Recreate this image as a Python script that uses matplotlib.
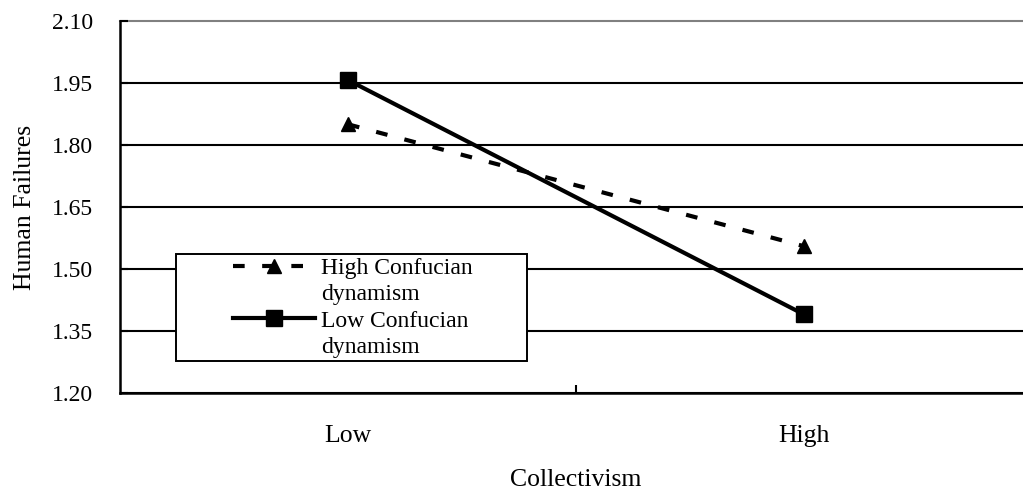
# Graphique d'interaction : collectivisme x dynamisme confucéen
import matplotlib
matplotlib.use("Agg")
import matplotlib.pyplot as plt
from matplotlib.lines import Line2D
from matplotlib.legend_handler import HandlerLine2D
import numpy as np

# Données
categories = ["Low", "High"]
valeurs_haut_confucien = [1.85, 1.555]
valeurs_bas_confucien = [1.957, 1.39]
noms_series = ["High Confucian\ndynamism", "Low Confucian\ndynamism"]
graduations_y = [1.20, 1.35, 1.50, 1.65, 1.80, 1.95, 2.10]
titre_x = "Collectivism"
titre_y = "Human Failures"

plt.rcParams['font.family'] = ['Liberation Serif', 'DejaVu Serif']

fig = plt.figure(figsize=(10.23, 4.97), dpi=100)
ax = fig.add_axes([0.1173, 0.2093, 0.8915, 0.7485])

# Tracé des deux séries
positions = np.arange(len(categories)) + 0.5
ligne_haut, = ax.plot(positions, valeurs_haut_confucien, color='black', linewidth=3,
                      dashes=(2.8, 4.2), marker='^', markersize=10, zorder=3)
ligne_bas, = ax.plot(positions, valeurs_bas_confucien, color='black', linewidth=3,
                     marker='s', markersize=12, zorder=3)

# Axes et grille
ax.set_xlim(0, len(categories))
ax.set_ylim(graduations_y[0], graduations_y[-1])
ax.set_yticks(graduations_y)
ax.set_yticklabels([f"{v:.2f}" for v in graduations_y])
ax.set_xticks(positions)
ax.set_xticklabels(categories)
ax.set_xticks(np.arange(1, len(categories)), minor=True)
ax.tick_params(axis='x', which='major', length=0, pad=23, labelsize=18.5)
ax.tick_params(axis='x', which='minor', direction='in', length=6, width=1.5)
ax.tick_params(axis='y', direction='in', length=6, width=1.5, pad=19.4, labelsize=17)
ax.grid(axis='y', color='black', linewidth=1.5)
# la ligne du haut est grise et ne doit pas être coupée en deux
ligne_sup = ax.get_ygridlines()[-1]
ligne_sup.set_color('#808080')
ligne_sup.set_clip_on(False)
for cote in ['top', 'right']:
    ax.spines[cote].set_visible(False)
for cote in ['left', 'bottom']:
    ax.spines[cote].set_linewidth(1.8)
ax.set_xlabel(titre_x, fontsize=18.5, labelpad=16)
ax.set_ylabel(titre_y, fontsize=18.5, labelpad=11.5)

# Légende : chaque nom sur deux lignes, poignée alignée sur la première
poignees = []
etiquettes = []
for ligne, nom in zip([ligne_haut, ligne_bas], noms_series):
    premiere, reste = nom.split("\n")
    poignees += [ligne, Line2D([], [], linestyle='none')]
    etiquettes += [premiere, reste]
leg = fig.legend(poignees, etiquettes, loc='upper left',
                 bbox_to_anchor=(0.172, 0.2757, 0.3431, 0.2133), mode='expand',
                 borderaxespad=0, borderpad=0.15, labelspacing=0.2,
                 handlelength=5.74, handletextpad=0.25, fancybox=False,
                 edgecolor='black', framealpha=1, prop={'size': 17},
                 handler_map={Line2D: HandlerLine2D(xpad=2.27)})
leg.get_frame().set_linewidth(1.4)

fig.savefig("out.png", dpi=100)
